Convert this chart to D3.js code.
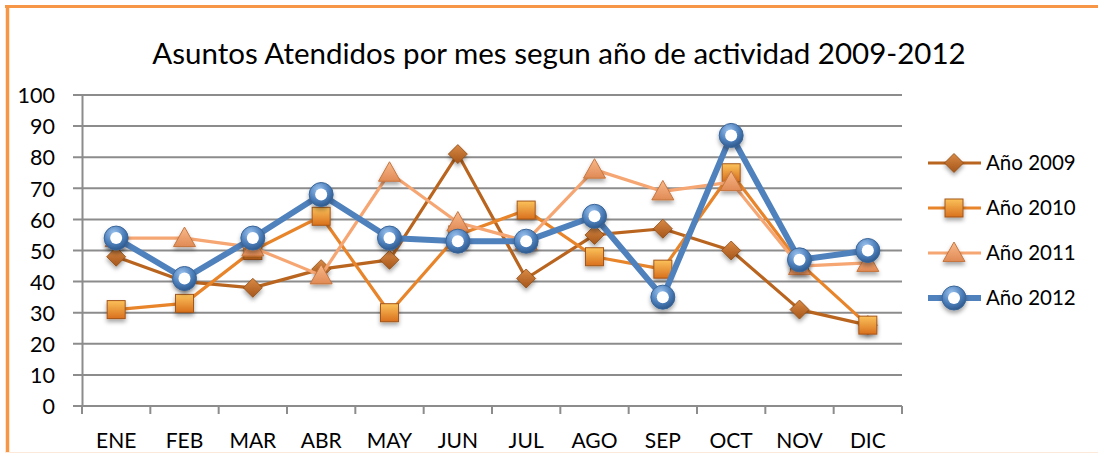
<!DOCTYPE html>
<html>
<head>
    <meta charset="utf-8">
    <title>Asuntos Atendidos</title>
    <script src="https://d3js.org/d3.v7.min.js"></script>
    <style>
        body { margin: 0; background: #fff; }
        text { font-family: Lato, "Open Sans", sans-serif; fill: #000; }
    </style>
</head>
<body>
    <svg class="chart" width="1098" height="453"></svg>

    <script>
// datos
const meses = ['ENE', 'FEB', 'MAR', 'ABR', 'MAY', 'JUN', 'JUL', 'AGO', 'SEP', 'OCT', 'NOV', 'DIC'];
const anio2009 = [48, 40, 38, 44, 47, 81, 41, 55, 57, 50, 31, 26];
const anio2010 = [31, 33, 50, 61, 30, 55, 63, 48, 44, 75, 46, 26];
const anio2011 = [54, 54, 51, 42, 75, 59, 53, 76, 69, 72, 45, 46];
const anio2012 = [54, 41, 54, 68, 54, 53, 53, 61, 35, 87, 47, 50];
const yTicks = [0, 10, 20, 30, 40, 50, 60, 70, 80, 90, 100];
const titulo = 'Asuntos Atendidos por mes segun año de actividad 2009-2012';

const series = [
    { nombre: 'Año 2009', valores: anio2009, color: '#B9651F', marca: 'diamond', ancho: 3.2 },
    { nombre: 'Año 2010', valores: anio2010, color: '#E8842A', marca: 'square', ancho: 3.2 },
    { nombre: 'Año 2011', valores: anio2011, color: '#F6A672', marca: 'triangle', ancho: 3.2 },
    { nombre: 'Año 2012', valores: anio2012, color: '#4F81BD', marca: 'circle', ancho: 6 }
];

const svg = d3.select('.chart');
const margin = { top: 95, right: 196, bottom: 47, left: 82 };
const width = +svg.attr('width') - margin.left - margin.right;
const height = +svg.attr('height') - margin.top - margin.bottom;

// marco naranja
svg.append('rect').attr('x', 0).attr('y', 0).attr('width', 1098).attr('height', 453).attr('fill', '#fff');
svg.append('line').attr('x1', 5).attr('x2', 1098).attr('y1', 6.5).attr('y2', 6.5)
    .attr('stroke', '#F79646').attr('stroke-width', 3);
svg.append('line').attr('x1', 7.5).attr('x2', 7.5).attr('y1', 5).attr('y2', 453)
    .attr('stroke', '#F79646').attr('stroke-width', 3.5);
svg.append('line').attr('x1', 5).attr('x2', 1098).attr('y1', 452.5).attr('y2', 452.5)
    .attr('stroke', '#FDE9D9').attr('stroke-width', 1);

// degradados y sombra
const defs = svg.append('defs');
const sombra = defs.append('filter').attr('id', 'sombra')
    .attr('x', '-50%').attr('y', '-50%').attr('width', '200%').attr('height', '220%');
sombra.append('feDropShadow').attr('dx', 0).attr('dy', 3).attr('stdDeviation', 2)
    .attr('flood-color', '#000').attr('flood-opacity', 0.35);

function degradado(id, claro, oscuro) {
    const gr = defs.append('linearGradient').attr('id', id)
        .attr('x1', 0).attr('y1', 0).attr('x2', 0).attr('y2', 1);
    gr.append('stop').attr('offset', '0%').attr('stop-color', claro);
    gr.append('stop').attr('offset', '100%').attr('stop-color', oscuro);
}
degradado('g2009', '#D98A45', '#A5561A');
degradado('g2010', '#FBC25A', '#D9701E');
degradado('g2011', '#F9B98A', '#E08A55');
const rg = defs.append('radialGradient').attr('id', 'g2012')
    .attr('cx', '40%').attr('cy', '30%').attr('r', '70%');
rg.append('stop').attr('offset', '0%').attr('stop-color', '#9CC3EE');
rg.append('stop').attr('offset', '60%').attr('stop-color', '#4F81BD');
rg.append('stop').attr('offset', '100%').attr('stop-color', '#2E5A8E');

const g = svg.append('g').attr('transform', `translate(${margin.left},${margin.top})`);

// escalas
const x = d3.scaleBand().range([0, width]).domain(meses);
const y = d3.scaleLinear().range([height, 0]).domain([0, 100]);

// rejilla
g.append('g').selectAll('line').data(yTicks).enter().append('line')
    .attr('x1', -9).attr('x2', width)
    .attr('y1', d => y(d)).attr('y2', d => y(d))
    .attr('stroke', '#8C8C8C').attr('stroke-width', 2);

// eje y
const ejeY = g.append('g').call(d3.axisLeft(y).tickValues(yTicks).tickSize(0).tickPadding(27));
ejeY.select('.domain').attr('stroke', '#8C8C8C').attr('stroke-width', 2);
ejeY.selectAll('text').style('font-size', '21.5px').attr('dy', '0.36em');

// eje x
const bordes = meses.map(m => x(m)).concat([width]);
g.append('g').selectAll('line').data(bordes).enter().append('line')
    .attr('x1', d => d).attr('x2', d => d)
    .attr('y1', height).attr('y2', height + 8)
    .attr('stroke', '#8C8C8C').attr('stroke-width', 2);
g.append('line').attr('x1', -9).attr('x2', width).attr('y1', height).attr('y2', height)
    .attr('stroke', '#8C8C8C').attr('stroke-width', 2);
g.append('g').selectAll('text').data(meses).enter().append('text')
    .attr('x', d => x(d) + x.bandwidth() / 2)
    .attr('y', height + 41.5)
    .attr('text-anchor', 'middle')
    .style('font-size', '21px')
    .text(d => d);

// marcas
function dibujarMarca(sel, s, id) {
    if (s.marca === 'diamond') {
        sel.append('path').attr('d', 'M0,-9.5L9.5,0L0,9.5L-9.5,0Z')
            .attr('fill', `url(#${id})`).attr('stroke', '#8E4A12').attr('stroke-width', 0.8);
    } else if (s.marca === 'square') {
        sel.append('rect').attr('x', -9).attr('y', -9).attr('width', 18).attr('height', 18)
            .attr('fill', `url(#${id})`).attr('stroke', '#A4561A').attr('stroke-width', 1);
    } else if (s.marca === 'triangle') {
        sel.append('path').attr('d', 'M0,-11L11,8.5L-11,8.5Z')
            .attr('fill', `url(#${id})`).attr('stroke', '#C6763F').attr('stroke-width', 1);
    } else {
        sel.append('circle').attr('r', 12).attr('fill', `url(#${id})`)
            .attr('stroke', '#3A6598').attr('stroke-width', 1);
        sel.append('circle').attr('r', 6).attr('fill', '#fff');
    }
}

const linea = d3.line()
    .x((d, i) => x(meses[i]) + x.bandwidth() / 2)
    .y(d => y(d));

series.forEach(s => {
    const id = 'g' + s.nombre.slice(-4);
    g.append('path').datum(s.valores)
        .attr('fill', 'none').attr('stroke', s.color)
        .attr('stroke-width', s.ancho).attr('stroke-linejoin', 'round')
        .attr('d', linea);
    g.append('g').selectAll('g').data(s.valores).enter().append('g')
        .attr('transform', (d, i) => `translate(${x(meses[i]) + x.bandwidth() / 2},${y(d)})`)
        .attr('filter', 'url(#sombra)')
        .each(function () { dibujarMarca(d3.select(this), s, id); });
});

// titulo
svg.append('text').attr('x', 559).attr('y', 64)
    .attr('text-anchor', 'middle')
    .style('font-size', '29.5px')
    .text(titulo);

// leyenda
const leyenda = svg.append('g').attr('transform', 'translate(928,163)');
const filas = leyenda.selectAll('g').data(series).enter().append('g')
    .attr('transform', (d, i) => `translate(0,${i * 45})`);
filas.append('line').attr('x1', 0).attr('x2', 53).attr('y1', 0).attr('y2', 0)
    .attr('stroke', d => d.color).attr('stroke-width', d => d.ancho);
filas.append('g').attr('transform', 'translate(26,0)')
    .attr('filter', 'url(#sombra)')
    .each(function (s) { dibujarMarca(d3.select(this), s, 'g' + s.nombre.slice(-4)); });
filas.append('text').attr('x', 58).attr('y', 0).attr('dy', '0.35em')
    .style('font-size', '20.5px')
    .text(d => d.nombre);
    </script>
</body>
</html>
